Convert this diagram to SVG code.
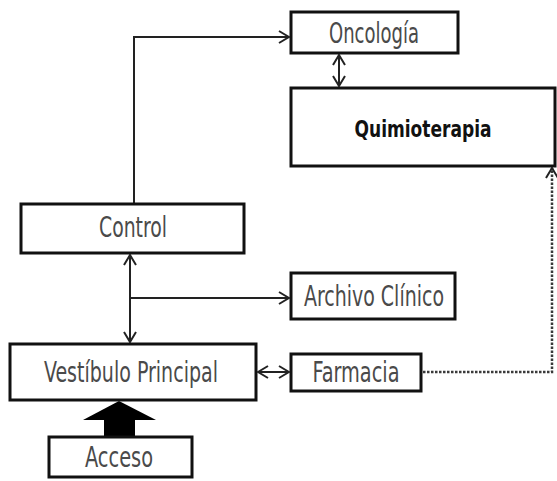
<svg xmlns="http://www.w3.org/2000/svg" width="557" height="481" viewBox="0 0 557 481">
  <style>
    .box { fill: #ffffff; stroke: #111111; stroke-width: 3; }
    .lbl { font-family: "DejaVu Sans Condensed", "Liberation Sans Narrow", "DejaVu Sans", sans-serif; font-size: 29px; fill: #4a4a4a; text-anchor: middle; dominant-baseline: central; }
    .strong { font-weight: bold; fill: #111111; font-size: 23px; }
    .link { fill: none; stroke: #222222; stroke-width: 2; }
    .dash { fill: none; stroke: #3a3a3a; stroke-width: 2.5; stroke-dasharray: 2.5 1.5; }
  </style>
  <defs>
    <marker id="head" viewBox="0 0 12 14" refX="11" refY="7" markerWidth="12" markerHeight="14" markerUnits="userSpaceOnUse" orient="auto-start-reverse">
      <path d="M1,1 L11,7 L1,13" fill="none" stroke="#222222" stroke-width="2"/>
    </marker>
  </defs>

  <rect width="557" height="481" fill="#ffffff"/>

  <g id="connectors">
    <!-- Control up to Oncología -->
    <path class="link" d="M134,203 V37 H289" marker-end="url(#head)"/>
    <!-- Oncología <-> Quimioterapia -->
    <path class="link" d="M339,55 V86" marker-start="url(#head)" marker-end="url(#head)"/>
    <!-- Control <-> Vestíbulo Principal -->
    <path class="link" d="M130,255 V342" marker-start="url(#head)" marker-end="url(#head)"/>
    <!-- branch to Archivo Clínico -->
    <path class="link" d="M130,298 H289" marker-end="url(#head)"/>
    <!-- Vestíbulo Principal <-> Farmacia -->
    <path class="link" d="M258,372 H289" marker-start="url(#head)" marker-end="url(#head)"/>
    <!-- Farmacia to Quimioterapia (dashed) -->
    <path class="dash" d="M423,372 H552 V168" marker-end="url(#head)"/>
    <!-- entrance block arrow -->
    <polygon points="83,420 119,401 156,420" fill="#000000"/>
    <rect x="104" y="419" width="31" height="18" fill="#000000"/>
  </g>

  <g id="oncologia">
    <rect class="box" x="291" y="12" width="167" height="41"/>
    <text class="lbl" x="374" y="33" textLength="90" lengthAdjust="spacingAndGlyphs">Oncología</text>
  </g>

  <g id="quimioterapia">
    <rect class="box" x="291" y="88" width="264" height="78"/>
    <text class="lbl strong" x="423" y="129" textLength="137" lengthAdjust="spacingAndGlyphs">Quimioterapia</text>
  </g>

  <g id="control">
    <rect class="box" x="21" y="204" width="223" height="49"/>
    <text class="lbl" x="133" y="227" textLength="68" lengthAdjust="spacingAndGlyphs">Control</text>
  </g>

  <g id="archivo">
    <rect class="box" x="291" y="273" width="164" height="46"/>
    <text class="lbl" x="374" y="296" textLength="140" lengthAdjust="spacingAndGlyphs">Archivo Clínico</text>
  </g>

  <g id="vestibulo">
    <rect class="box" x="10" y="344" width="246" height="56"/>
    <text class="lbl" x="131" y="372" textLength="174" lengthAdjust="spacingAndGlyphs">Vestíbulo Principal</text>
  </g>

  <g id="farmacia">
    <rect class="box" x="291" y="354" width="130" height="37"/>
    <text class="lbl" x="356" y="372" textLength="87" lengthAdjust="spacingAndGlyphs">Farmacia</text>
  </g>

  <g id="acceso">
    <rect class="box" x="49" y="437" width="143" height="40"/>
    <text class="lbl" x="119" y="457" textLength="68" lengthAdjust="spacingAndGlyphs">Acceso</text>
  </g>
</svg>
